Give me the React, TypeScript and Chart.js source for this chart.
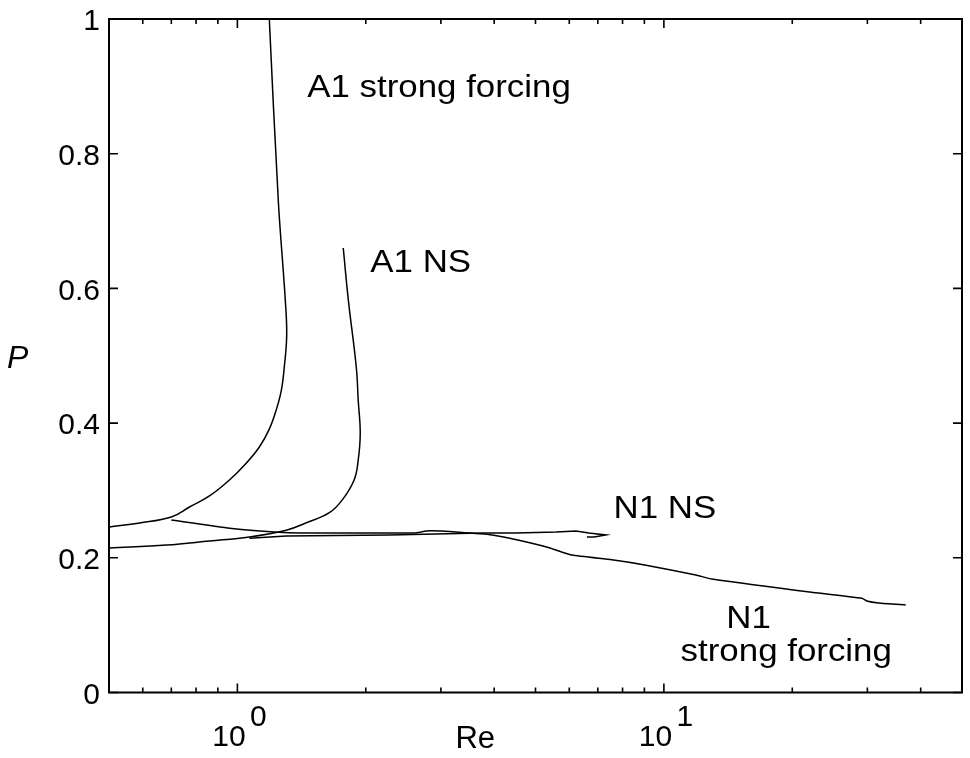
import React, { useEffect, useRef } from 'react';
import { Chart, registerables } from 'chart.js';

Chart.register(...registerables);

// ---- data (Re on log axis, P on linear axis) ----
const a1StrongRe = [1.188, 1.247, 1.295, 1.305, 1.288, 1.268, 1.234, 1.188, 1.126, 1.05, 0.958, 0.86, 0.772, 0.7, 0.59, 0.501];
const a1StrongP = [1.0, 0.731, 0.583, 0.53, 0.483, 0.449, 0.42, 0.391, 0.3645, 0.3408, 0.3155, 0.2918, 0.2754, 0.2606, 0.2517, 0.2457];

const a1NsRe = [1.771, 1.82, 1.9, 1.92, 1.941, 1.92, 1.879, 1.762, 1.643, 1.451, 1.302, 1.067, 0.86, 0.682, 0.501];
const a1NsP = [0.66, 0.583, 0.483, 0.434, 0.385, 0.345, 0.316, 0.286, 0.267, 0.252, 0.241, 0.231, 0.225, 0.219, 0.2146];

const n1NsRe = [1.067, 1.302, 2.27, 3.75, 4.5, 5.59, 6.22, 6.67, 7.31, 6.86, 6.6];
const n1NsP = [0.229, 0.2324, 0.2339, 0.2368, 0.2368, 0.2383, 0.2398, 0.2368, 0.2339, 0.231, 0.231];

const n1StrongRe = [0.7, 0.96, 1.25, 1.4, 2.27, 2.6, 2.82, 3.31, 3.96, 4.57, 5.38, 6.09, 7.55, 9.08, 11.88, 12.95, 18.6, 22.2, 29.1, 29.9, 31.9, 36.9];
const n1StrongP = [0.256, 0.244, 0.238, 0.237, 0.237, 0.237, 0.24, 0.238, 0.234, 0.226, 0.215, 0.204, 0.197, 0.189, 0.1745, 0.1685, 0.155, 0.149, 0.14, 0.136, 0.133, 0.13];

// ---- axis ticks ----
const xTickValues = [0.5, 0.6, 0.7, 0.8, 0.9, 1, 2, 3, 4, 5, 6, 7, 8, 9, 10, 20, 30, 40, 50];
const xMajorValues = [1, 10];
const xMajorExponents = ['0', '1'];
const yTickValues = [0, 0.2, 0.4, 0.6, 0.8, 1];
const yTickLabels = ['0', '0.2', '0.4', '0.6', '0.8', '1'];

// ---- annotations (centre x in Re, baseline in P) ----
const noteTexts = ['A1 strong forcing', 'A1 NS', 'N1 NS', 'N1', 'strong forcing'];
const noteRe = [2.97, 2.69, 10.05, 15.8, 19.36];
const noteP = [0.884, 0.624, 0.259, 0.0958, 0.0468];

const FONT = '"Liberation Sans", Arial, Helvetica, sans-serif';

const zip = (xs: number[], ys: number[]) => xs.map((x, i) => ({ x, y: ys[i] }));

const framePlugin = {
  id: 'frameAndNotes',
  afterDatasetsDraw(chart: any) {
    const { ctx, chartArea } = chart;
    const { left, right, top, bottom } = chartArea;
    const xs = chart.scales.x;
    const ys = chart.scales.y;
    ctx.save();
    ctx.strokeStyle = '#000';
    ctx.lineWidth = 2;
    ctx.strokeRect(left, top, right - left, bottom - top);
    ctx.lineWidth = 1.6;
    ctx.beginPath();
    xTickValues.forEach((v) => {
      const px = xs.getPixelForValue(v);
      const len = xMajorValues.includes(v) ? 9 : 5;
      ctx.moveTo(px, bottom);
      ctx.lineTo(px, bottom - len);
      ctx.moveTo(px, top);
      ctx.lineTo(px, top + len);
    });
    yTickValues.forEach((v) => {
      const py = ys.getPixelForValue(v);
      ctx.moveTo(left, py);
      ctx.lineTo(left + 9, py);
      ctx.moveTo(right, py);
      ctx.lineTo(right - 9, py);
    });
    ctx.stroke();

    // annotations
    ctx.fillStyle = '#000';
    ctx.font = `32px ${FONT}`;
    ctx.textAlign = 'center';
    ctx.textBaseline = 'alphabetic';
    noteTexts.forEach((t, i) => {
      const px = xs.getPixelForValue(noteRe[i]);
      const py = ys.getPixelForValue(noteP[i]);
      ctx.save();
      ctx.translate(px, py);
      ctx.scale(1.09, 1);
      ctx.fillText(t, 0, 0);
      ctx.restore();
    });

    // y-axis title (upright italic P)
    ctx.font = `italic 32px ${FONT}`;
    ctx.textAlign = 'left';
    ctx.fillText('P', left - 102, (top + bottom) / 2 + 12);
    ctx.restore();
  },
};

export default function App() {
  const canvasRef = useRef<HTMLCanvasElement | null>(null);

  useEffect(() => {
    if (!canvasRef.current) return;
    const lineStyle = {
      borderColor: '#000',
      backgroundColor: '#000',
      borderWidth: 1.5,
      pointRadius: 0,
      showLine: true,
      fill: false,
    };
    const chart = new Chart(canvasRef.current, {
      type: 'scatter',
      data: {
        datasets: [
          { label: 'A1 strong forcing', data: zip(a1StrongRe, a1StrongP), tension: 0.4, ...lineStyle },
          { label: 'A1 NS', data: zip(a1NsRe, a1NsP), tension: 0.4, ...lineStyle },
          { label: 'N1 NS', data: zip(n1NsRe, n1NsP), tension: 0, ...lineStyle },
          { label: 'N1 strong forcing', data: zip(n1StrongRe, n1StrongP), tension: 0.15, ...lineStyle },
        ],
      },
      options: {
        animation: false,
        responsive: false,
        maintainAspectRatio: false,
        layout: { padding: { top: 19, right: 8, left: 0, bottom: 0 } },
        plugins: { legend: { display: false }, tooltip: { enabled: false } },
        scales: {
          x: {
            type: 'logarithmic',
            position: 'bottom',
            min: 0.5,
            max: 50,
            afterBuildTicks: (s: any) => {
              s.ticks = xTickValues.map((v) => ({ value: v }));
            },
            afterFit: (s: any) => {
              s.height = 65.5;
              s.paddingLeft = 0;
              s.paddingRight = 0;
            },
            grid: { display: false, drawTicks: false },
            border: { display: false },
            ticks: {
              autoSkip: false,
              maxRotation: 0,
              minRotation: 0,
              padding: 15,
              color: '#000',
              font: { family: FONT, size: 30, lineHeight: 0.67 },
              callback: (v: any) => {
                const idx = xMajorValues.indexOf(Number(v));
                if (idx < 0) return '';
                return ['     ' + xMajorExponents[idx], '10  '];
              },
            },
            title: {
              display: true,
              text: 'Re' + ' '.repeat(14),
              color: '#000',
              font: { family: FONT, size: 31 },
              padding: { top: 0, bottom: 0 },
            },
          },
          y: {
            type: 'linear',
            min: 0,
            max: 1,
            afterBuildTicks: (s: any) => {
              s.ticks = yTickValues.map((v) => ({ value: v }));
            },
            afterFit: (s: any) => {
              s.width = 109;
              s.paddingTop = 0;
              s.paddingBottom = 0;
            },
            grid: { display: false, drawTicks: false },
            border: { display: false },
            ticks: {
              padding: 9,
              labelOffset: 3,
              color: '#000',
              font: { family: FONT, size: 30 },
              callback: (v: any) => {
                const idx = yTickValues.findIndex((t) => Math.abs(t - Number(v)) < 1e-9);
                return idx >= 0 ? yTickLabels[idx] : '';
              },
            },
          },
        },
      },
      plugins: [framePlugin],
    } as any);
    return () => chart.destroy();
  }, []);

  return (
    <div style={{ position: 'absolute', left: 0, top: 0, width: 970, height: 758, background: '#fff' }}>
      <canvas ref={canvasRef} width={970} height={758} style={{ display: 'block', width: 970, height: 758 }} />
    </div>
  );
}
